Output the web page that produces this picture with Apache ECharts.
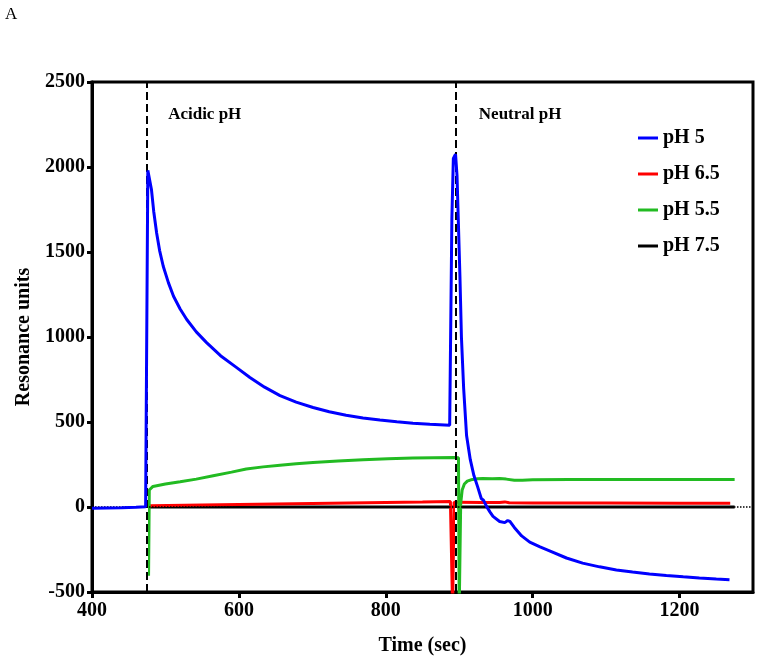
<!DOCTYPE html>
<html><head><meta charset="utf-8">
<script src="https://cdn.jsdelivr.net/npm/echarts@6/dist/echarts.min.js"></script>
<style>html,body{margin:0;padding:0;background:#fff}#c{width:762px;height:661px}</style>
</head><body><div id="c"></div>
<script>
const xTicks = [400, 600, 800, 1000, 1200];
const yTicks = [-500, 0, 500, 1000, 1500, 2000, 2500];
const seriesNames = ['pH 5', 'pH 6.5', 'pH 5.5', 'pH 7.5'];

const ph5T = [400,420,440,460,473,475,476,478,481,484,488,492,497,504,511,520,529,542,556,575,597,615,635,656,678,701,723,746,769,792,815,837,860,887,888,890,892,895,897,899,901,903,906,910,915,920,925,930,933,937,942,946,955,962,966,969,975,985,996,1010,1023,1046,1068,1091,1114,1136,1159,1182,1205,1227,1250,1268];
const ph5Y = [-8,-6,-4,-1,2,5,1980,1978,1866,1740,1612,1510,1416,1320,1240,1165,1103,1030,967,890,820,762,705,655,617,585,560,540,524,512,502,493,487,481,485,1700,2050,2075,1950,1650,1350,1000,700,420,280,185,120,50,40,5,-30,-55,-85,-92,-80,-85,-120,-170,-207,-235,-258,-300,-330,-352,-370,-383,-394,-403,-411,-418,-424,-428];

const ph65T = [476,480,550,650,750,850,888,890,891,892,893,900,930,955,962,968,1000,1100,1200,1269];
const ph65Y = [5,8,12,18,24,29,32,33,-600,-600,28,28,26,26,30,25,24,23,22,22];

const ph55T = [476,477,478,479,483,500,520,542,565,590,610,633,656,678,701,735,769,803,837,865,894,899,900,901,902,904,907,911,916,925,932,945,955,964,975,986,1000,1050,1100,1150,1200,1275];
const ph55Y = [0,-405,100,106,121,135,148,164,184,205,223,236,246,255,262,271,278,284,288,290,291,290,-600,-600,20,100,135,152,160,166,168,166,167,164,158,157,160,162,162,162,162,162];

const ph75T = [476,600,800,1000,1200,1275];
const ph75Y = [0,0,0,0,0,0];

const markerTimes = [474, 895];
const regionLabels = ['Acidic pH', 'Neutral pH'];
const regionLabelT = [503, 926];
const regionLabelY = [2306, 2306];

function zip(t, y) { return t.map((v, i) => [v, y[i]]); }
const font = '"Liberation Serif","Times New Roman",serif';
const boldText = { fontFamily: font, fontWeight: 'bold', fontSize: 20, color: '#000' };

const colors = ['#0000ff', '#ff0000', '#22bb22', '#000000'];
const seriesData = [zip(ph5T, ph5Y), zip(ph65T, ph65Y), zip(ph55T, ph55Y), zip(ph75T, ph75Y)];
const zs = [5, 3, 4, 2];

const series = seriesNames.map((n, i) => ({
  name: n, type: 'line', data: seriesData[i], symbol: 'none', showSymbol: false,
  lineStyle: { width: 3, color: colors[i] }, itemStyle: { color: colors[i] }, z: zs[i],
  silent: true
}));
series[3].markLine = {
  silent: true, symbol: ['none', 'none'], label: { show: false },
  lineStyle: { color: '#000', width: 1.5, type: [1.5, 1.5] },
  data: [{ yAxis: 0 }]
};
series.push({
  name: '_under', type: 'line', data: [], z: 8, silent: true,
  markLine: {
    silent: true, symbol: ['none', 'none'], label: { show: false },
    lineStyle: { color: '#fff', width: 2, type: 'solid' },
    data: markerTimes.map(t => ({ xAxis: t }))
  }
});
series.push({
  name: '_dash', type: 'line', data: [], z: 9, silent: true,
  markLine: {
    silent: true, symbol: ['none', 'none'], label: { show: false },
    lineStyle: { color: '#000', width: 2, type: [8, 4] },
    data: markerTimes.map(t => ({ xAxis: t }))
  },
  markPoint: {
    silent: true, symbol: 'rect', symbolSize: 1, itemStyle: { color: 'rgba(0,0,0,0)' },
    label: { show: true, position: 'right', distance: 0, formatter: p => p.name,
      fontFamily: font, fontWeight: 'bold', fontSize: 17, color: '#000' },
    data: regionLabels.map((s, i) => ({ name: s, coord: [regionLabelT[i], regionLabelY[i]] }))
  }
});

const plain = v => String(v);
const chart = echarts.init(document.getElementById('c'));
chart.setOption({
  animation: false,
  backgroundColor: '#fff',
  grid: { left: 92, right: 9, top: 82, bottom: 68, show: true, borderColor: '#000', borderWidth: 3 },
  graphic: [{ type: 'text', left: 5, top: 6, style: { text: 'A', font: '17px "Liberation Serif"', fill: '#000' } }],
  legend: {
    data: seriesNames, orient: 'vertical', left: 633, top: 123, itemWidth: 20, itemHeight: 3,
    itemGap: 16, icon: 'rect', selectedMode: false,
    textStyle: boldText
  },
  xAxis: {
    type: 'value', min: 400, max: 1300, interval: 200,
    name: 'Time (sec)', nameLocation: 'middle', nameGap: 44, nameTextStyle: boldText,
    axisLine: { show: true, onZero: false, lineStyle: { color: '#000', width: 3 } },
    axisTick: { show: true, length: 6, customValues: xTicks, lineStyle: { color: '#000', width: 3 } },
    axisLabel: Object.assign({ customValues: xTicks, margin: 9, formatter: plain }, boldText),
    splitLine: { show: false }
  },
  yAxis: {
    type: 'value', min: -500, max: 2500, interval: 500,
    name: 'Resonance units', nameLocation: 'middle', nameGap: 53, nameTextStyle: boldText,
    axisLine: { show: true, onZero: false, lineStyle: { color: '#000', width: 3 } },
    axisTick: { show: true, length: 5, customValues: yTicks, lineStyle: { color: '#000', width: 3 } },
    axisLabel: Object.assign({ customValues: yTicks, margin: 7, formatter: plain }, boldText),
    splitLine: { show: false }
  },
  series: series
});
</script></body></html>
